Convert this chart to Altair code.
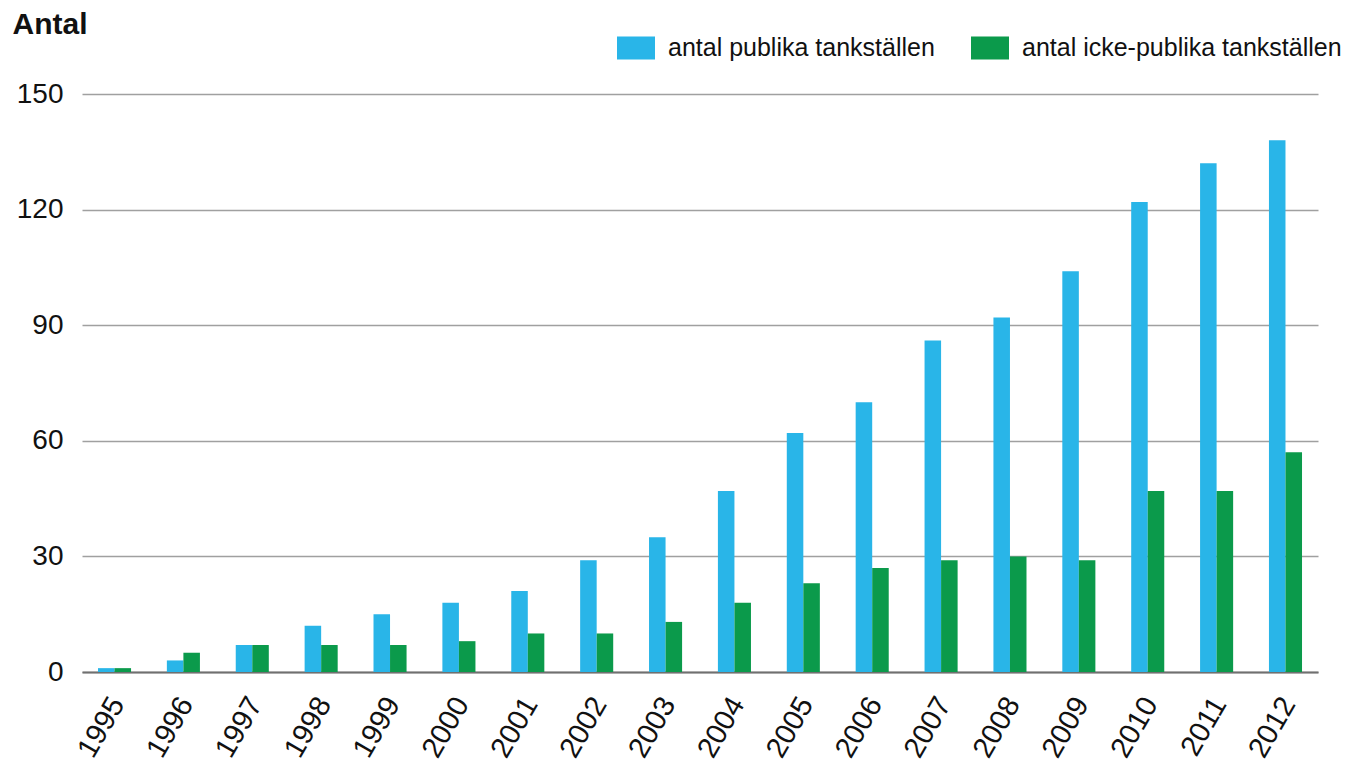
import altair as alt
import pandas as pd

years = [str(y) for y in range(1995, 2013)]
publika = [1, 3, 7, 12, 15, 18, 21, 29, 35, 47, 62, 70, 86, 92, 104, 122, 132, 138]
icke_publika = [1, 5, 7, 7, 7, 8, 10, 10, 13, 18, 23, 27, 29, 30, 29, 47, 47, 57]
series_names = ["antal publika tankställen", "antal icke-publika tankställen"]
colors = ["#29b5e8", "#0b9a4b"]

rows = []
for i, y in enumerate(years):
    rows.append({"year": y, "serie": series_names[0], "value": publika[i]})
    rows.append({"year": y, "serie": series_names[1], "value": icke_publika[i]})
df = pd.DataFrame(rows)

font = "Liberation Sans"

chart = alt.Chart(df).mark_bar().encode(
    x=alt.X("year:N", sort=years,
            scale=alt.Scale(paddingInner=0.52, paddingOuter=0.232),
            axis=alt.Axis(title=None, labelAngle=-60, labelFontSize=29, labelFont=font,
                          labelColor="#111", ticks=False, domainColor="#707070",
                          domainWidth=2, labelPadding=27, labelOffset=3)),
    xOffset=alt.XOffset("serie:N", sort=series_names),
    y=alt.Y("value:Q", scale=alt.Scale(domain=[0, 150]),
            axis=alt.Axis(values=[0, 30, 60, 90, 120, 150], title="Antal",
                          titleAngle=0, titleX=-70, titleY=-61, titleAlign="left",
                          titleBaseline="alphabetic", titleFontSize=30, titleFont=font,
                          titleFontWeight="bold", titleColor="#111",
                          labelFontSize=28, labelFont=font, labelColor="#111",
                          labelPadding=19, ticks=False, domain=False,
                          gridColor="#a0a0a0", gridWidth=1.5)),
    color=alt.Color("serie:N", sort=series_names,
                    scale=alt.Scale(domain=series_names, range=colors),
                    legend=alt.Legend(title=None, orient="none", legendX=535, legendY=-65,
                                      direction="horizontal",
                                      symbolType="M-1,-0.6H1V0.6H-1Z",
                                      symbolSize=1444, symbolStrokeWidth=0,
                                      labelFontSize=25, labelFont=font, labelColor="#111",
                                      labelLimit=0, columnPadding=36, labelOffset=13)),
).properties(
    width=1236, height=578,
    autosize=alt.AutoSizeParams(type="none"),
    padding={"left": 74, "top": 86, "right": 30, "bottom": 98},
).configure_view(stroke=None)

chart.save("out.html", embed_options={"renderer": "svg", "actions": False})
